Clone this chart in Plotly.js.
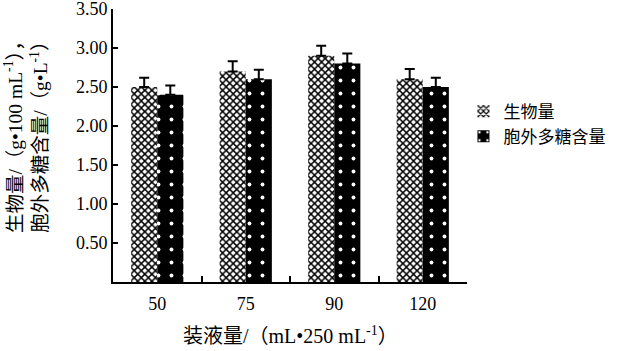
<!DOCTYPE html>
<html><head><meta charset="utf-8">
<script src="https://cdn.plot.ly/plotly-3.0.1.min.js"></script>
<style>html,body{margin:0;padding:0;background:#fff}#chart{width:619px;height:351px}</style>
</head><body><div id="chart"></div>
<script>
var categories = ['50', '75', '90', '120'];
var seriesNames = ['生物量', '胞外多糖含量'];
var biomass = [2.50, 2.70, 2.90, 2.60];
var biomassErr = [0.12, 0.13, 0.13, 0.13];
var eps = [2.40, 2.60, 2.80, 2.50];
var epsErr = [0.12, 0.12, 0.13, 0.12];
var yTicks = [0.5, 1.0, 1.5, 2.0, 2.5, 3.0, 3.5];
var yTickText = ['0.50', '1.00', '1.50', '2.00', '2.50', '3.00', '3.50'];

var FONT = 'Liberation Serif, Times New Roman, Noto Sans CJK SC, serif';

var traces = [
  {
    type: 'bar', name: seriesNames[0], x: categories, y: biomass,
    marker: {color: 'white', line: {width: 0},
      pattern: {shape: 'x', fgcolor: 'black', bgcolor: 'white', size: 5, solidity: 0.5, fillmode: 'replace'}},
    error_y: {type: 'data', symmetric: false, array: biomassErr, arrayminus: [0,0,0,0], color: 'black', thickness: 2, width: 5}
  },
  {
    type: 'bar', name: seriesNames[1], x: categories, y: eps,
    marker: {color: 'black', line: {width: 0},
      pattern: {shape: '.', fgcolor: 'white', bgcolor: 'black', size: 13, solidity: 0.07, fillmode: 'replace'}},
    error_y: {type: 'data', symmetric: false, array: epsErr, arrayminus: [0,0,0,0], color: 'black', thickness: 2, width: 5}
  }
];

var layout = {
  width: 619, height: 351,
  margin: {l: 113, r: 152, t: 9, b: 69},
  paper_bgcolor: 'white', plot_bgcolor: 'white',
  font: {family: FONT, size: 18, color: 'black'},
  barmode: 'group', bargap: 0.41, bargroupgap: 0,
  showlegend: true,
  legend: {x: 0.99, xanchor: 'left', y: 0.69, yanchor: 'top', font: {size: 17, family: FONT},
           bgcolor: 'rgba(0,0,0,0)', itemwidth: 30, tracegroupgap: 4},
  xaxis: {
    type: 'category', showline: true, linecolor: 'black', linewidth: 2,
    ticks: 'inside', tickson: 'boundaries', ticklen: 6, tickwidth: 2, tickcolor: 'black',
    showgrid: false, zeroline: false, tickfont: {size: 18, family: FONT}, ticklabelstandoff: 4
  },
  yaxis: {
    range: [0, 3.5], showline: true, linecolor: 'black', linewidth: 2,
    ticks: 'inside', ticklen: 5, tickwidth: 2, tickcolor: 'black',
    tickvals: yTicks, ticktext: yTickText, showgrid: false, zeroline: false,
    tickfont: {size: 18, family: FONT}, ticklabeloverflow: 'allow'
  },
  annotations: [
    {text: '生物量/（g•100 mL<sup>-1</sup>），<br>胞外多糖含量/（g•L<sup>-1</sup>）', textangle: -90,
     xref: 'paper', yref: 'paper', x: -0.245, y: 0.55, xanchor: 'center', yanchor: 'middle',
     showarrow: false, font: {size: 19.5, family: FONT}, align: 'center'},
    {text: '装液量/（mL•250 mL<sup>-1</sup>）', xref: 'paper', yref: 'paper', x: 0.5, y: -0.195,
     xanchor: 'center', yanchor: 'middle', showarrow: false, font: {size: 20, family: FONT}}
  ]
};

Plotly.newPlot('chart', traces, layout, {displayModeBar: false, staticPlot: true});
</script></body></html>
